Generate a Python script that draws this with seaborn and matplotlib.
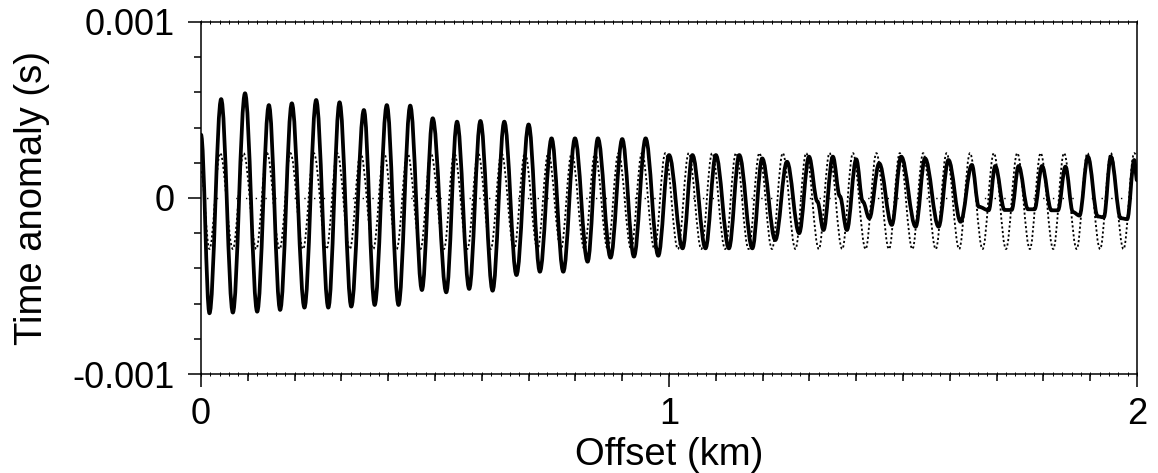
import matplotlib
matplotlib.use("Agg")
import matplotlib.pyplot as plt
import seaborn as sns
import pandas as pd
from matplotlib.ticker import MultipleLocator, NullLocator
from matplotlib.patheffects import AbstractPathEffect
from matplotlib.path import Path
from matplotlib.transforms import IdentityTransform

# ---- data (offset in km, time anomaly in s) ----
solid_x = [0.000, 0.018, 0.043, 0.068, 0.094, 0.120, 0.145, 0.169, 0.194, 0.221,
           0.246, 0.272, 0.296, 0.321, 0.348, 0.371, 0.397, 0.422, 0.447, 0.472,
           0.495, 0.524, 0.547, 0.573, 0.597, 0.623, 0.648, 0.674, 0.700, 0.724,
           0.749, 0.774, 0.799, 0.826, 0.848, 0.875, 0.900, 0.925, 0.950, 0.977,
           1.000, 1.029, 1.050, 1.078, 1.100, 1.128, 1.150, 1.178, 1.199, 1.227,
           1.252, 1.278, 1.299, 1.317, 1.330, 1.350, 1.365, 1.380, 1.400, 1.414,
           1.428, 1.449, 1.476, 1.496, 1.527, 1.547, 1.576, 1.597, 1.623, 1.647,
           1.662, 1.683, 1.697, 1.717, 1.732, 1.747, 1.767, 1.781, 1.797, 1.817,
           1.831, 1.847, 1.863, 1.877, 1.895, 1.916, 1.929, 1.944, 1.965, 1.979,
           1.994, 2.000]
solid_y = [0.00036, -0.000655, 0.000562, -0.000651, 0.000595, -0.000646, 0.000528, -0.000636,
           0.000538, -0.000623, 0.000557, -0.000623, 0.000544, -0.000617, 0.000500, -0.000608,
           0.000528, -0.000608, 0.000525, -0.000523, 0.000453, -0.000536, 0.000434, -0.000517,
           0.000438, -0.000527, 0.000434, -0.000438, 0.000418, -0.000419, 0.000339, -0.000419,
           0.000339, -0.000362, 0.000339, -0.000339, 0.000335, -0.000333, 0.000339, -0.000328,
           0.000244, -0.000286, 0.000244, -0.000286, 0.000244, -0.000286, 0.000244, -0.000286,
           0.000225, -0.000239, 0.000206, -0.000200, 0.000235, -0.000020, -0.000182, 0.000235,
           0.000010, -0.000182, 0.000220, -0.000020, -0.000115, 0.000197, -0.000153, 0.000235,
           -0.000163, 0.000225, -0.000163, 0.000216, -0.000135, 0.000188, -0.000050, -0.000070,
           0.000182, -0.000068, -0.000068, 0.000182, -0.000064, -0.000064, 0.000182, -0.000070,
           -0.000070, 0.000178, -0.000080, -0.000100, 0.000235, -0.000105, -0.000110, 0.000235,
           -0.000115, -0.000120, 0.000216, 0.000100]

dotted_trough_x = [0.018, 0.068, 0.118, 0.168, 0.218, 0.268, 0.318, 0.368, 0.418, 0.469,
                   0.519, 0.569, 0.619, 0.669, 0.719, 0.769, 0.819, 0.869, 0.919, 0.969,
                   1.019, 1.069, 1.120, 1.170, 1.220, 1.270, 1.320, 1.370, 1.420, 1.470,
                   1.520, 1.570, 1.620, 1.670, 1.720, 1.771, 1.821, 1.871, 1.921, 1.971]
dotted_peak_x = [0.041, 0.091, 0.141, 0.191, 0.241, 0.291, 0.341, 0.391, 0.441, 0.491,
                 0.541, 0.592, 0.642, 0.692, 0.742, 0.792, 0.842, 0.892, 0.942, 0.992,
                 1.042, 1.092, 1.143, 1.193, 1.243, 1.293, 1.343, 1.393, 1.443, 1.493,
                 1.543, 1.593, 1.643, 1.694, 1.744, 1.794, 1.844, 1.894, 1.944, 1.994]
dotted_trough_value = -0.00029
dotted_peak_value = 0.000255
dotted_start = (0.0, 0.00015)
dotted_end = (2.0, 0.00024)

x_ticks = [0, 1, 2]
x_tick_labels = ["0", "1", "2"]
y_ticks = [-0.001, 0, 0.001]
y_tick_labels = ["-0.001", "0", "0.001"]

# ---- tables ----
solid_df = pd.DataFrame({"offset": solid_x, "anomaly": solid_y})
d_x = [dotted_start[0]]
d_y = [dotted_start[1]]
for tx, px in zip(dotted_trough_x, dotted_peak_x):
    d_x += [tx, px]
    d_y += [dotted_trough_value, dotted_peak_value]
d_x.append(dotted_end[0])
d_y.append(dotted_end[1])
dotted_df = pd.DataFrame({"offset": d_x, "anomaly": d_y})


class SplineConnect(AbstractPathEffect):
    """Draw the line through its points as smooth curve segments
    (horizontal tangent at every point), like a 'spline connect' line style."""

    def __init__(self, k=0.364):
        super().__init__()
        self._k = k

    def draw_path(self, renderer, gc, tpath, affine, rgbFace=None):
        v = affine.transform(tpath.vertices)
        if len(v) < 2:
            renderer.draw_path(gc, tpath, affine, rgbFace)
            return
        verts = [tuple(v[0])]
        codes = [Path.MOVETO]
        for (x0, y0), (x1, y1) in zip(v[:-1], v[1:]):
            d = (x1 - x0) * self._k
            verts += [(x0 + d, y0), (x1 - d, y1), (x1, y1)]
            codes += [Path.CURVE4] * 3
        renderer.draw_path(gc, Path(verts, codes), IdentityTransform(), rgbFace)


# ---- style ----
sns.set_theme(style="ticks")
plt.rcParams["font.family"] = ["Liberation Sans", "DejaVu Sans"]
plt.rcParams["axes.linewidth"] = 1.1

fig = plt.figure(figsize=(11.58, 4.73), dpi=100)
ax = fig.add_axes([0.1736, 0.2093, 0.8083, 0.7442])

ax.axhline(0, color="black", lw=1.0, linestyle=(3, (1, 6)), zorder=1)
sns.lineplot(data=solid_df, x="offset", y="anomaly", ax=ax, color="black",
             lw=2.7, sort=False, estimator=None, zorder=2,
             path_effects=[SplineConnect()])
sns.lineplot(data=dotted_df, x="offset", y="anomaly", ax=ax, color="black",
             lw=1.3, sort=False, estimator=None, linestyle=(0, (1.2, 1.3)), zorder=3,
             path_effects=[SplineConnect()])

ax.set_xlim(0, 2)
ax.set_ylim(-0.001, 0.001)
ax.set_xticks(x_ticks, x_tick_labels)
ax.set_yticks(y_ticks, y_tick_labels)
ax.xaxis.set_minor_locator(MultipleLocator(0.1))
ax.yaxis.set_minor_locator(MultipleLocator(0.0002))
ax.tick_params(which="major", direction="out", length=9.5, width=1.1,
               labelsize=26, colors="black")
ax.tick_params(axis="y", which="major", pad=9.5)
ax.tick_params(axis="x", which="major", pad=7)
ax.tick_params(which="minor", direction="out", length=5, width=1.1, colors="black")
ax.tick_params(top=False, right=False, which="both")
for s in ax.spines.values():
    s.set_visible(True)
    s.set_color("black")
    s.set_linewidth(1.1)

ax.set_xlabel("Offset (km)", fontsize=27.5, color="black", labelpad=4)
ax.set_ylabel("Time anomaly (s)", fontsize=27.5, color="black")
ax.yaxis.set_label_coords(-0.161, 0.5)

# tiny ticks along top and bottom frame lines
ax2 = ax.twiny()
ax2.set_xlim(0, 2)
ax2.xaxis.set_major_locator(MultipleLocator(0.02))
ax2.xaxis.set_minor_locator(NullLocator())
ax2.tick_params(axis="x", which="major", top=True, bottom=True, labeltop=False,
                labelbottom=False, direction="inout", length=3, width=0.7, colors="black")
for s in ax2.spines.values():
    s.set_visible(False)

fig.savefig("out.png", dpi=100)
